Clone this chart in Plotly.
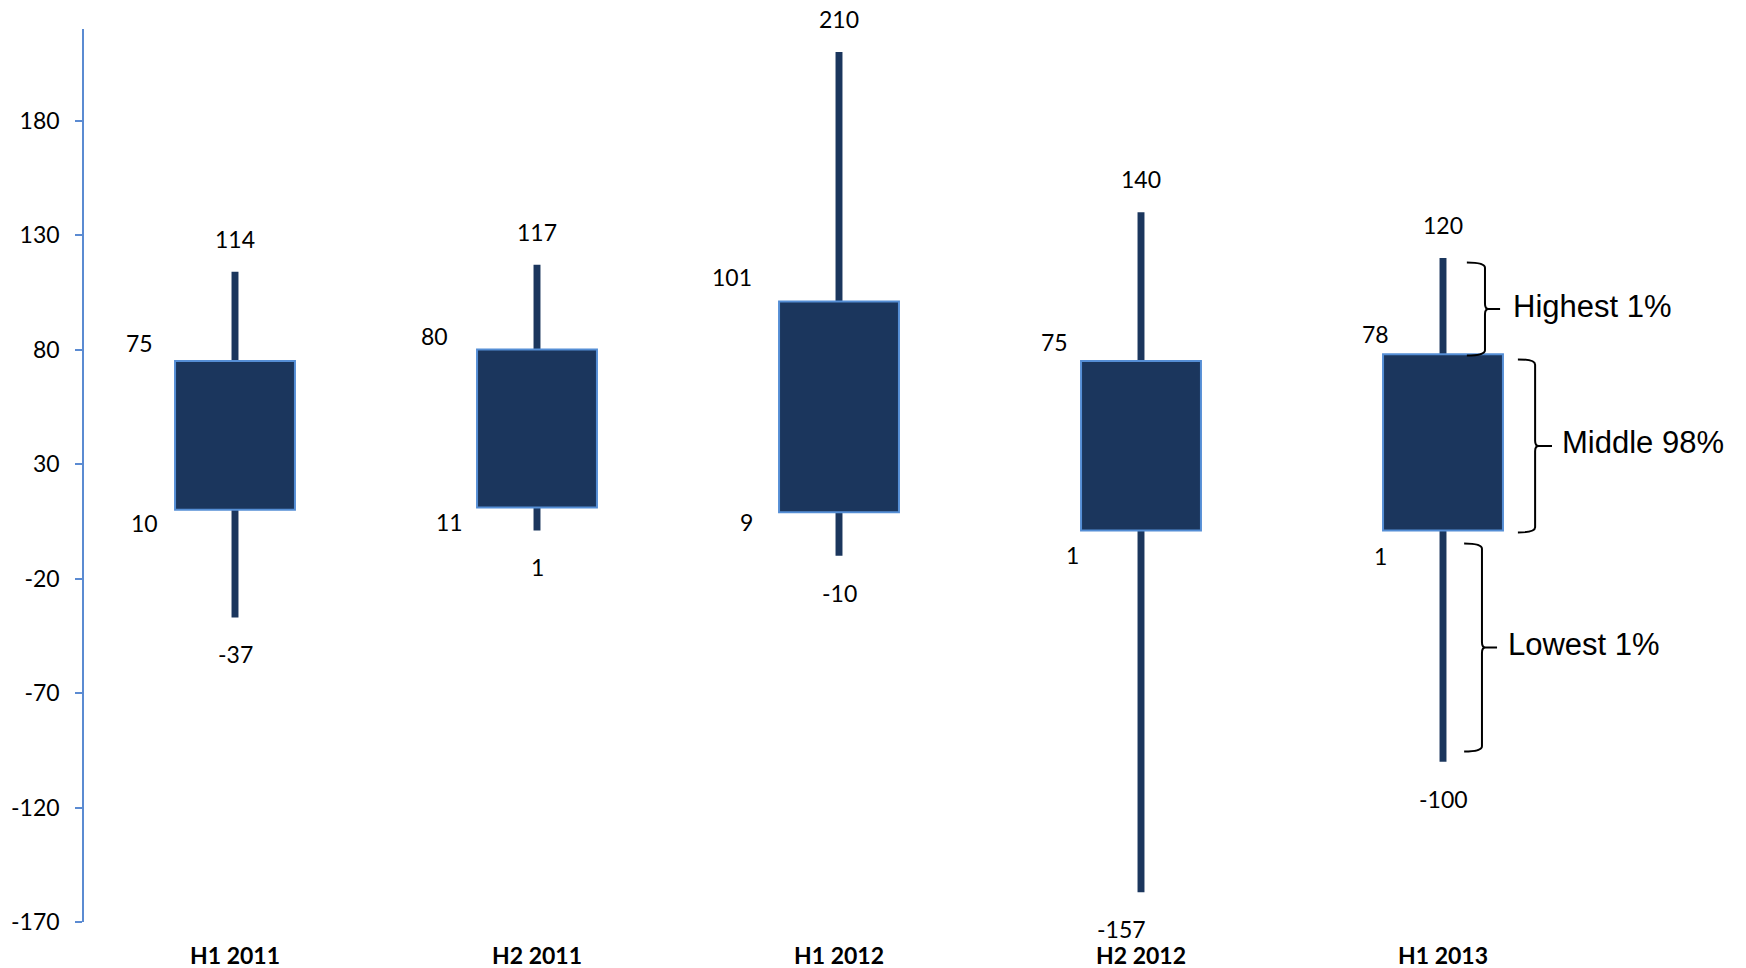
import plotly.graph_objects as go

# Half-year distribution: 1st percentile, band bounds and 99th percentile
periods = ["H1 2011", "H2 2011", "H1 2012", "H2 2012", "H1 2013"]
lowest = [-37, 1, -10, -157, -100]
band_low = [10, 11, 9, 1, 1]
band_high = [75, 80, 101, 75, 78]
highest = [114, 117, 210, 140, 120]

y_ticks = [-170, -120, -70, -20, 30, 80, 130, 180]

NAVY = "#1B365D"
EDGE = "#558ED5"
AXIS = "#5B8BD2"
BOX_W = 0.397
WICK_W = 0.023
LABEL_FONT = dict(family="Lato", size=23, color="#000000")

xs = list(range(len(periods)))

fig = go.Figure()

# whisker: full range from lowest to highest
fig.add_trace(go.Bar(
    x=xs, base=lowest, y=[h - l for h, l in zip(highest, lowest)],
    width=WICK_W, marker=dict(color=NAVY, line=dict(width=0)),
    hoverinfo="skip", showlegend=False,
))
# box: middle band
fig.add_trace(go.Bar(
    x=xs, base=band_low, y=[h - l for h, l in zip(band_high, band_low)],
    width=BOX_W, marker=dict(color=NAVY, line=dict(color=EDGE, width=2)),
    hoverinfo="skip", showlegend=False,
))

annotations = []
# pixel offsets of the band labels from the box's left corners
top_band_shift = [(-36, 18), (-43, 14), (-47, 24), (-27, 19), (-8, 20)]
low_band_shift = [(-31, -13), (-28, -14), (-33, -10), (-9, -25), (-3, -26)]
# horizontal nudge of the lowest-value labels
low_end_xshift = [0, 0, 0, -20, 0]

for i in xs:
    annotations.append(dict(x=i, y=highest[i], text=str(highest[i]), showarrow=False,
                            xref="x", yref="y", yshift=33, font=LABEL_FONT))
    annotations.append(dict(x=i, y=lowest[i], text=str(lowest[i]), showarrow=False,
                            xref="x", yref="y", yshift=-37, xshift=low_end_xshift[i],
                            font=LABEL_FONT))
    dx, dy = top_band_shift[i]
    annotations.append(dict(x=i - BOX_W / 2, y=band_high[i], text=str(band_high[i]),
                            showarrow=False, xref="x", yref="y",
                            xshift=dx, yshift=dy, font=LABEL_FONT))
    dx, dy = low_band_shift[i]
    annotations.append(dict(x=i - BOX_W / 2, y=band_low[i], text=str(band_low[i]),
                            showarrow=False, xref="x", yref="y",
                            xshift=dx, yshift=dy, font=LABEL_FONT))


def brace(xl, xv, xt, yt, yb, r=2.3, d=0.012):
    """Right-facing curly brace path in data units."""
    ym = (yt + yb) / 2
    return (f"M {xl},{yt} Q {xv},{yt} {xv},{yt - r} L {xv},{ym + r} "
            f"Q {xv},{ym} {xv + d},{ym} L {xt},{ym} "
            f"M {xv + d},{ym} Q {xv},{ym} {xv},{ym - r} "
            f"L {xv},{yb + r} Q {xv},{yb} {xl},{yb}")


last = len(periods) - 1
key_font = dict(family="Liberation Sans, Arial", size=31, color="#000000")
legend_keys = [
    # (x left, x spine, x tip, top, bottom, text, text x)
    (4.079, 4.139, 4.189, highest[last] - 2, band_high[last] - 0.6, "Highest 1%", 4.224),
    (4.248, 4.305, 4.361, band_high[last] - 2.3, band_low[last] - 0.9, "Middle 98%", 4.386),
    (4.070, 4.129, 4.179, band_low[last] - 5.7, lowest[last] + 4.5, "Lowest 1%", 4.209),
]
shapes = []
for xl, xv, xt, yt, yb, txt, tx in legend_keys:
    shapes.append(dict(type="path", path=brace(xl, xv, xt, yt, yb), xref="x", yref="y",
                       line=dict(color="#000000", width=2), layer="above"))
    annotations.append(dict(x=tx, y=(yt + yb) / 2, text=txt, showarrow=False,
                            xref="x", yref="y", xanchor="left", yanchor="middle",
                            yshift=3, font=key_font))

fig.update_layout(
    width=1746, height=968,
    margin=dict(l=84, r=152, t=29, b=46, autoexpand=False),
    paper_bgcolor="white", plot_bgcolor="white",
    barmode="overlay",
    annotations=annotations, shapes=shapes,
    xaxis=dict(range=[-0.5, 4.5], tickvals=xs, ticktext=periods, showgrid=False,
               zeroline=False, showline=False, ticks="", automargin=False,
               tickfont=dict(family="Lato", size=23, color="#000000", weight="bold"),
               ticklabelstandoff=18),
    yaxis=dict(range=[-170, 220], tickvals=y_ticks, ticktext=[str(v) for v in y_ticks],
               showgrid=False, zeroline=False, automargin=False,
               showline=True, linecolor=AXIS, linewidth=1.5,
               ticks="outside", ticklen=7, tickcolor=AXIS, tickwidth=1.5,
               tickfont=LABEL_FONT, ticklabelstandoff=11),
)

fig.write_html("out.html")
